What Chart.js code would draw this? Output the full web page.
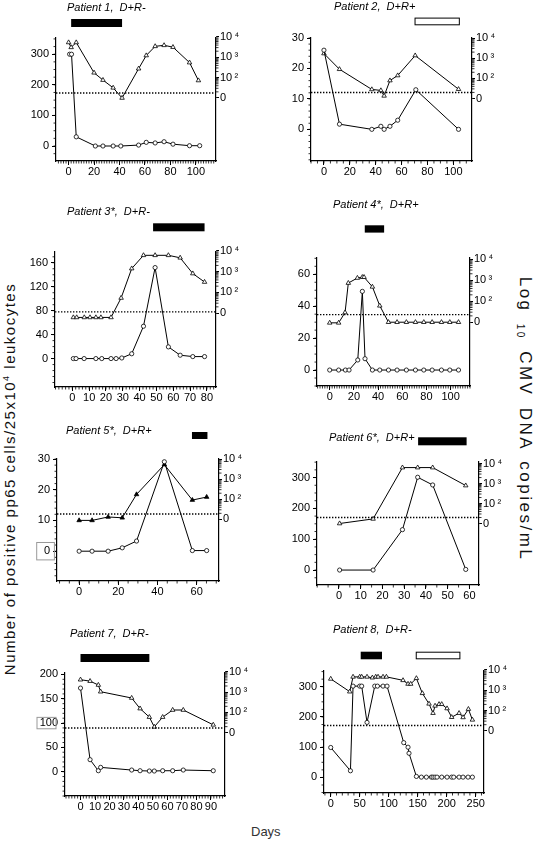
<!DOCTYPE html>
<html>
<head>
<meta charset="utf-8">
<script src="https://cdn.jsdelivr.net/npm/chart.js@4.4.1/dist/chart.umd.min.js"></script>
<style>
  html, body { margin: 0; padding: 0; background: #fff; }
  body { width: 537px; height: 856px; position: relative; overflow: hidden;
         font-family: "Liberation Sans", Arial, "DejaVu Sans", sans-serif; color: #000; }
  .title { position: absolute; font-style: italic; font-size: 11px; line-height: 11px; white-space: pre; }
  .vlab { position: absolute; white-space: nowrap; font-size: 15px; line-height: 15px; color: #111; }
  #days { position: absolute; left: 251px; top: 824px; font-size: 13px; color: #333; }
</style>
</head>
<body>
<div class="vlab" id="leftLab" style="left:8px;top:479px;letter-spacing:1.5px;transform:translate(-50%,-50%) rotate(-90deg)">Number of positive pp65 cells/25x10<sup style="font-size:9px">4</sup> leukocytes</div>
<div class="vlab" id="rightLab" style="left:523px;top:419px;font-size:17px;line-height:17px;letter-spacing:2.5px;word-spacing:4px;transform:translate(-50%,-50%) rotate(90deg)">Log <span style="font-size:10px;vertical-align:-3px">10</span> CMV DNA copies/mL</div>
<div id="days">Days</div>
<script>
// ---- data ----
// pp65 antigenaemia (circles, left axis) and CMV DNA in log units (triangles, right axis)
// right axis: 1 = "0", 2 = 10^2, 3 = 10^3, 4 = 10^4
const p1CellDays = [0.8, 2.3, 6, 21, 27, 35, 41, 55, 61, 68, 75, 82, 95, 103];
const p1Cells    = [300, 300, 30, 0, 0, 0, 0, 3, 12, 10, 14, 6, 1, 1];
const p1DnaDays  = [0, 2, 6, 20, 27, 35, 42, 55, 61, 68, 75, 82, 95, 102];
const p1Dna      = [3.73, 3.49, 3.73, 2.24, 1.88, 1.5, 1.0, 2.44, 3.09, 3.54, 3.59, 3.5, 2.74, 1.86];

const p2CellDays = [0, 12, 37, 44, 46.5, 51, 57, 71, 104];
const p2Cells    = [26, 1.7, 0, 1, 0, 1, 3, 13, 0];
const p2DnaDays  = [0, 12, 37, 44, 46.5, 51, 57, 70.5, 104];
const p2Dna      = [3.23, 2.45, 1.45, 1.4, 1.13, 1.89, 2.14, 3.13, 1.46];

const p3CellDays = [0.6, 2.2, 7, 14, 17.5, 23, 26, 29.4, 35.3, 42.3, 49.2, 57.1, 64.1, 71.6, 78.6];
const p3Cells    = [0, 0, 0, 0, 0, 0, 0, 1, 8, 54, 152, 19.5, 5.6, 3.3, 3.3];
const p3DnaDays  = [0.6, 2.6, 7.1, 10.5, 14, 17, 23, 29, 35.3, 42.3, 49.2, 57.1, 64.1, 71.6, 78.6];
const p3Dna      = [0.79, 0.79, 0.79, 0.79, 0.79, 0.79, 0.79, 1.73, 3.15, 3.79, 3.79, 3.79, 3.67, 2.91, 2.5];

const p4CellDays = [0, 7.4, 13, 16, 23.2, 27, 29.2, 35.3, 41.4, 48.6, 55.7, 63.4, 70.9, 77.8, 84.7, 92.4, 99.3, 106.5];
const p4Cells    = [0, 0, 0, 0, 6.3, 49.3, 7.1, 0, 0, 0, 0, 0, 0, 0, 0, 0, 0, 0];
const p4DnaDays  = [0, 7.4, 12.7, 15.4, 22.9, 27, 28.4, 35.3, 41.4, 48.6, 55.7, 63.4, 70.9, 77.8, 84.7, 92.4, 99.3, 106.5];
const p4Dna      = [0.97, 0.97, 1.46, 2.86, 3.1, 3.14, 3.14, 2.68, 1.78, 1, 1, 1, 1, 1, 1, 1, 1, 1];

const p5CellDays = [0, 6.6, 14.8, 22, 29.3, 43.5, 57.8, 65.1];
const p5Cells    = [0, 0, 0, 1.1, 3.3, 29.1, 0.2, 0.2];
const p5DnaDays  = [0, 6.6, 14.8, 22, 29.3, 43.5, 57.8, 65.1];
const p5Dna      = [0.95, 0.95, 1.12, 1.08, 2.24, 3.72, 1.96, 2.11];

const p6CellDays = [0.3, 15.7, 29.2, 36.2, 43.1, 58.3];
const p6Cells    = [0, 0, 131, 301, 276, 2];
const p6DnaDays  = [0.3, 15.7, 29.2, 36.2, 43.1, 58.3];
const p6Dna      = [1.0, 1.23, 3.8, 3.8, 3.8, 2.9];

const p7CellDays = [0, 6.6, 12.3, 13.9, 35.3, 41.1, 47.5, 50.9, 56.7, 63.6, 70.9, 91.6];
const p7Cells    = [172, 24.7, 2, 8.9, 3.4, 2, 1.4, 1.4, 2, 2, 3.4, 2];
const p7DnaDays  = [0, 6.6, 12.3, 13.9, 35.3, 41.1, 47.5, 50.9, 56.7, 63.6, 70.9, 91.6];
const p7Dna      = [3.61, 3.54, 3.35, 3.02, 2.71, 2.19, 1.77, 1.29, 1.77, 2.12, 2.12, 1.39];

const p8CellDays = [0, 34, 38.5, 50, 53.4, 62.6, 75.9, 80.5, 90.2, 97.1, 125.9, 133.3, 135, 147.7, 156.3, 164.9, 173.6, 176.4, 179.9, 183.3, 191.4, 200.6, 208.6, 212.1, 221.3, 228.2, 236.8, 244.3];
const p8Cells    = [99, 22, 302, 302, 302, 182, 302, 302, 302, 302, 115, 100, 80, 3.3, 1, 1, 1, 1, 1, 1, 1, 1, 1, 1, 1, 1, 1, 1];
const p8DnaDays  = [0, 32.8, 38.5, 50, 53.4, 62.6, 71.8, 77.6, 81.6, 90.2, 96, 124.7, 133.3, 137.9, 147.7, 158, 169.5, 176.4, 179.9, 186.8, 191.4, 200.6, 208.6, 221.3, 228.2, 237.4, 244.3];
const p8Dna      = [3.56, 2.93, 3.66, 3.66, 3.66, 3.66, 3.62, 3.66, 3.66, 3.66, 3.66, 3.49, 3.31, 3.31, 3.59, 2.85, 2.33, 1.87, 2.23, 2.31, 2.31, 2.1, 1.67, 1.87, 1.66, 2.07, 1.54];

// therapy periods, [start day, end day]
const p1Solid = [[2, 42]];
const p2Open  = [[70, 105]];
const p3Solid = [[48, 78.6]];
const p4Solid = [[29, 45]];
const p5Solid = [[57.6, 65.5]];
const p6Solid = [[36.4, 58.7]];
const p7Solid = [[0, 47.5]];
const p8Solid = [[51.7, 88.4]];
const p8Open  = [[146.6, 223.6]];

// positivity cut-off (dotted line), left axis units
const cutoffs = [173, 12.1, 78, 34.7, 12.1, 170.5, 90, 171.6];

const titles = ["Patient 1,  D+R-", "Patient 2,  D+R+", "Patient 3*,  D+R-", "Patient 4*,  D+R+",
                "Patient 5*,  D+R+", "Patient 6*,  D+R+", "Patient 7,  D+R-", "Patient 8,  D+R-"];

// tick labels
const dayTicks = [[0, 20, 40, 60, 80, 100], [0, 20, 40, 60, 80, 100], [0, 10, 20, 30, 40, 50, 60, 70, 80],
                  [0, 20, 40, 60, 80, 100], [0, 20, 40, 60], [0, 10, 20, 30, 40, 50, 60],
                  [0, 10, 20, 30, 40, 50, 60, 70, 80, 90], [0, 50, 100, 150, 200, 250]];
const cellTicks = [[0, 100, 200, 300], [0, 10, 20, 30], [0, 40, 80, 120, 160], [0, 20, 40, 60],
                   [0, 10, 20, 30], [0, 100, 200, 300], [0, 50, 100, 150, 200], [0, 100, 200, 300]];
const logTickValues = [1, 2, 3, 4];
const logTickLabels = ["0", "10\u2009\u00b2", "10\u2009\u00b3", "10\u2009\u2074"];

// ---- layout of each panel (page pixels) ----
const AXW = 40, PADT = 36, XH = 24;
const layout = [
  { area: [55.7, 38, 215.7, 161],   x: [-9.9, 115.8], y: [-49, 353],   r: [-2.1, 3.95], xMinor: 2, yMinor: 25, barTop: 19,   barH: 8,   tx: 67,  ty: 7 },
  { area: [311, 37.7, 472.3, 161],  x: [-10, 114.4],  y: [-10.4, 30],  r: [-2.1, 4.0],  xMinor: 5, yMinor: 2,  barTop: 20.4, barH: 7.7, tx: 334, ty: 6 },
  { area: [55, 251.7, 215.7, 386.7],x: [-10.3, 85.4], y: [-47.5, 178], r: [-2.57, 3.95],xMinor: 2, yMinor: 10, barTop: 28.7, barH: 8,   tx: 67,  ty: 211 },
  { area: [317.3, 257.7, 470.3, 385.7], x: [-10.5, 116], y: [-10, 70.2], r: [-2.03, 4.05], xMinor: 2, yMinor: 5, barTop: 32.7, barH: 7.3, tx: 333, ty: 204.3 },
  { area: [57.3, 459.3, 219, 581.7],x: [-11.3, 71.4], y: [-9.7, 30],   r: [-2.06, 4.0], xMinor: 5, yMinor: 2,  barTop: 27,   barH: 7,   tx: 66,  ty: 430,
    box: { v: 0, x0: -20.3, x1: -2.6, h: 17.4 }, dnaFill: "#000" },
  { area: [317.3, 461.7, 479, 585], x: [-10.1, 64.4], y: [-48.5, 350.5], r: [-2.08, 4.08], xMinor: 5, yMinor: 25, barTop: 24.7, barH: 8, tx: 329, ty: 437 },
  { area: [65, 673.3, 225, 796.7],  x: [-10.7, 99.7], y: [-50, 203],   r: [-2.11, 3.94],xMinor: 2, yMinor: 10, barTop: 19,   barH: 8,   tx: 70,  ty: 633.3,
    box: { v: 100, x0: -28, x1: -9, h: 11.4 } },
  { area: [324.3, 671, 484.3, 793.3],x: [-11.6, 264.3], y: [-51.5, 352], r: [-2.07, 3.95], xMinor: 10, yMinor: 25, barTop: 19.3, barH: 7.6, tx: 333, ty: 629.3 }
];

const series = [
  [p1CellDays, p1Cells, p1DnaDays, p1Dna, p1Solid, []],
  [p2CellDays, p2Cells, p2DnaDays, p2Dna, [], p2Open],
  [p3CellDays, p3Cells, p3DnaDays, p3Dna, p3Solid, []],
  [p4CellDays, p4Cells, p4DnaDays, p4Dna, p4Solid, []],
  [p5CellDays, p5Cells, p5DnaDays, p5Dna, p5Solid, []],
  [p6CellDays, p6Cells, p6DnaDays, p6Dna, p6Solid, []],
  [p7CellDays, p7Cells, p7DnaDays, p7Dna, p7Solid, []],
  [p8CellDays, p8Cells, p8DnaDays, p8Dna, p8Solid, p8Open]
];

Chart.defaults.font.family = '"Liberation Sans", Arial, "DejaVu Sans", sans-serif';
Chart.defaults.font.size = 11;
Chart.defaults.color = "#000";

const zip = (xs, ys) => xs.map((x, i) => ({ x: x, y: ys[i] }));

// dotted cut-off, minor ticks, therapy bars, boxed tick label
const panelDecor = {
  id: "panelDecor",
  afterDraw(chart, args, o) {
    const { ctx, chartArea: a, scales } = chart;
    const x = scales.x, y = scales.y, y2 = scales.y2;
    ctx.save();
    ctx.strokeStyle = "#000";

    const cy = y.getPixelForValue(o.cutoff);
    ctx.lineWidth = 1.4;
    ctx.setLineDash([1.4, 1.6]);
    ctx.beginPath();
    ctx.moveTo(a.left, cy);
    ctx.lineTo(a.right, cy);
    ctx.stroke();
    ctx.setLineDash([]);

    ctx.lineWidth = 0.8;
    ctx.beginPath();
    for (let v = Math.ceil(x.min / o.xMinor) * o.xMinor; v <= x.max; v += o.xMinor) {
      const px = x.getPixelForValue(v);
      ctx.moveTo(px, a.bottom);
      ctx.lineTo(px, a.bottom + 2.5);
    }
    for (let v = Math.ceil(y.min / o.yMinor) * o.yMinor; v <= y.max; v += o.yMinor) {
      const py = y.getPixelForValue(v);
      ctx.moveTo(a.left, py);
      ctx.lineTo(a.left - 2.5, py);
    }
    for (let d = 1; d < 4; d++) {
      for (let k = 2; k < 10; k++) {
        const py = y2.getPixelForValue(d + Math.log10(k));
        ctx.moveTo(a.right, py);
        ctx.lineTo(a.right + 2.5, py);
      }
    }
    ctx.stroke();

    const top = a.top - o.barTop;
    o.solid.forEach(b => {
      const x0 = x.getPixelForValue(b[0]), x1 = x.getPixelForValue(b[1]);
      ctx.fillStyle = "#000";
      ctx.fillRect(x0, top, x1 - x0, o.barH);
    });
    o.open.forEach(b => {
      const x0 = x.getPixelForValue(b[0]), x1 = x.getPixelForValue(b[1]);
      ctx.lineWidth = 1;
      ctx.strokeRect(x0 + 0.5, top + 0.5, x1 - x0 - 1, o.barH - 1);
    });

    if (o.box) {
      const by = y.getPixelForValue(o.box.v);
      ctx.strokeStyle = "#999";
      ctx.lineWidth = 1;
      ctx.strokeRect(a.left + o.box.x0, by - o.box.h / 2, o.box.x1 - o.box.x0, o.box.h);
    }
    ctx.restore();
  }
};

layout.forEach((p, i) => {
  const [cellDays, cells, dnaDays, dna, solid, open] = series[i];
  const w = p.area[2] - p.area[0] + 2 * AXW;
  const h = PADT + (p.area[3] - p.area[1]) + XH;
  const cv = document.createElement("canvas");
  cv.width = Math.round(w);
  cv.height = Math.round(h);
  cv.style.cssText = `position:absolute;left:${p.area[0] - AXW}px;top:${p.area[1] - PADT}px;width:${Math.round(w)}px;height:${Math.round(h)}px`;
  document.body.appendChild(cv);

  const t = document.createElement("div");
  t.className = "title";
  t.textContent = titles[i];
  t.style.left = p.tx + "px";
  t.style.top = (p.ty - 5.5) + "px";
  document.body.appendChild(t);

  const axisCommon = {
    border: { color: "#000", width: 1.2 },
    grid: { drawOnChartArea: false, color: "#000", tickLength: 4, lineWidth: 1 }
  };

  new Chart(cv, {
    type: "line",
    data: {
      datasets: [
        {
          data: zip(cellDays, cells), yAxisID: "y",
          borderColor: "#000", borderWidth: 1, tension: 0,
          pointStyle: "circle", pointRadius: 2.1, pointBorderWidth: 0.8,
          pointBackgroundColor: "#fff", pointBorderColor: "#000"
        },
        {
          data: zip(dnaDays, dna), yAxisID: "y2",
          borderColor: "#000", borderWidth: 1, tension: 0,
          pointStyle: "triangle", pointRadius: 2.6, pointBorderWidth: 0.8,
          pointBackgroundColor: p.dnaFill || "#fff", pointBorderColor: "#000"
        }
      ]
    },
    options: {
      responsive: false,
      animation: false,
      devicePixelRatio: 1,
      layout: { padding: { top: PADT, left: 0, right: 0, bottom: 0 } },
      plugins: {
        legend: { display: false },
        tooltip: { enabled: false },
        panelDecor: {
          cutoff: cutoffs[i], xMinor: p.xMinor, yMinor: p.yMinor,
          solid: solid, open: open, barTop: p.barTop, barH: p.barH, box: p.box
        }
      },
      scales: {
        x: {
          type: "linear", min: p.x[0], max: p.x[1], ...axisCommon,
          afterBuildTicks: s => { s.ticks = dayTicks[i].map(v => ({ value: v })); },
          afterFit: s => { s.height = XH; },
          ticks: { autoSkip: false, maxRotation: 0, padding: 0 }
        },
        y: {
          type: "linear", position: "left", min: p.y[0], max: p.y[1], ...axisCommon,
          afterBuildTicks: s => { s.ticks = cellTicks[i].map(v => ({ value: v })); },
          afterFit: s => { s.width = AXW; },
          ticks: { padding: 3 }
        },
        y2: {
          type: "linear", position: "right", min: p.r[0], max: p.r[1], ...axisCommon,
          grid: { drawOnChartArea: false, color: "#000", tickLength: 3, lineWidth: 1 },
          afterBuildTicks: s => { s.ticks = logTickValues.map(v => ({ value: v })); },
          afterFit: s => { s.width = AXW; },
          ticks: { padding: 1, callback: v => logTickLabels[logTickValues.indexOf(v)] }
        }
      }
    },
    plugins: [panelDecor]
  });
});
</script>
</body>
</html>
